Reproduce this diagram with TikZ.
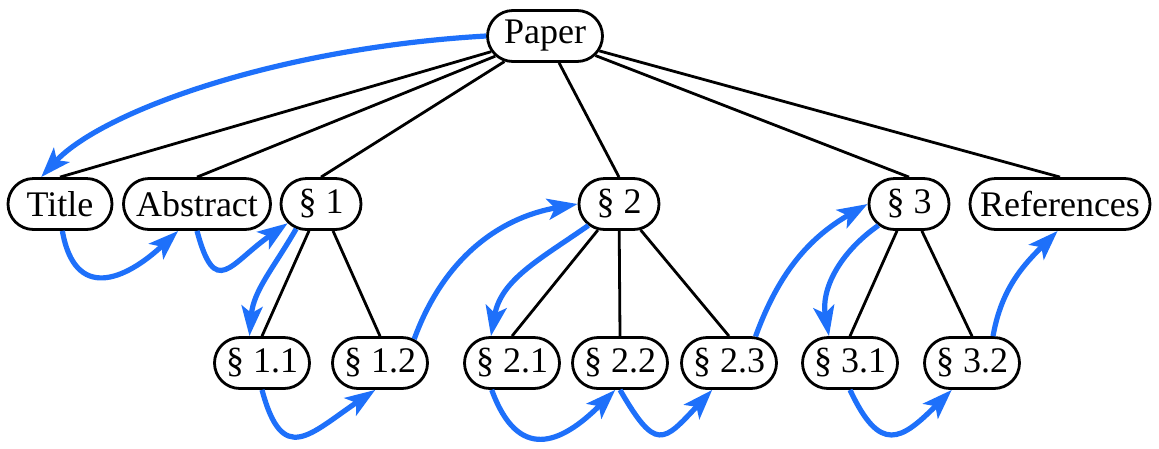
\documentclass[tikz,border=0pt]{standalone}
\usepackage{fontspec}
\setmainfont{Liberation Serif}
\usetikzlibrary{shapes.misc,arrows.meta}
\definecolor{flowblue}{RGB}{30,112,250}
\begin{document}
\begin{tikzpicture}[x=1pt,y=1pt,
  box/.style={draw=black,line width=2.8pt,fill=white,rounded rectangle,
    inner xsep=0pt,inner ysep=0pt,minimum height=51pt,
    font=\fontsize{36}{42}\selectfont},
  tree/.style={draw=black,line width=2.8pt},
  flow/.style={draw=flowblue,line width=5.2pt,
    -{Stealth[length=30pt,width=21pt,inset=7pt]}}]
\useasboundingbox (0,0) rectangle (1159,-448);
% nodes
\node[box,minimum width=115pt] (paper) at (545,-36) {Paper};
\node[box,minimum width=104pt] (title) at (60,-204) {Title};
\node[box,minimum width=147pt] (abstract) at (197,-204) {Abstract};
\node[box,minimum width=80pt] (sec1) at (321,-204) {§ 1};
\node[box,minimum width=80pt] (sec2) at (619,-204) {§ 2};
\node[box,minimum width=80pt] (sec3) at (909,-204) {§ 3};
\node[box,minimum width=180pt] (refs) at (1060,-204) {References};
\node[box,minimum width=95pt] (sec11) at (262,-363) {§ 1.1};
\node[box,minimum width=95pt] (sec12) at (380,-363) {§ 1.2};
\node[box,minimum width=95pt] (sec21) at (512,-363) {§ 2.1};
\node[box,minimum width=95pt] (sec22) at (620,-363) {§ 2.2};
\node[box,minimum width=95pt] (sec23) at (729,-363) {§ 2.3};
\node[box,minimum width=95pt] (sec31) at (850,-363) {§ 3.1};
\node[box,minimum width=95pt] (sec32) at (972,-363) {§ 3.2};
% tree edges
\draw[tree] (paper) -- (title.north);
\draw[tree] (paper) -- (abstract.north);
\draw[tree] (paper) -- (sec1.north);
\draw[tree] (paper) -- (sec2.north);
\draw[tree] (paper) -- (sec3.north);
\draw[tree] (paper) -- (refs.north);
\draw[tree] (sec1) -- (sec11.north);
\draw[tree] (sec1) -- (sec12.north);
\draw[tree] (sec2) -- (sec21.north);
\draw[tree] (sec2) -- (sec22.north);
\draw[tree] (sec2) -- (sec23.north);
\draw[tree] (sec3) -- (sec31.north);
\draw[tree] (sec3) -- (sec32.north);
% reading order
\draw[flow] (paper.west) .. controls +(-210,-12) and +(60,65) .. (title.125);
\draw[flow] (title.-85) to[out=-80,in=-137,looseness=1.6] (abstract.-125);
\draw[flow] (abstract.south) to[out=-75,in=-145,looseness=2] (sec1.-150);
\draw[flow] (sec1.-135) to[out=-120,in=85] (sec11.115);
\draw[flow] (sec11.south) to[out=-75,in=-146,looseness=1.8] (sec12.-100);
\draw[flow] (sec12.35) to[out=70,in=190] (sec2.west);
\draw[flow] (sec2.-145) to[out=-145,in=80] (sec21.128);
\draw[flow] (sec21.-127) to[out=-70,in=-135,looseness=1.6] (sec22.-100);
\draw[flow] (sec22.south) to[out=-60,in=-133,looseness=2] (sec23.-122);
\draw[flow] (sec23.45) to[out=70,in=-150] (sec3.west);
\draw[flow] (sec3.-145) to[out=-145,in=100] (sec31.128);
\draw[flow] (sec31.south) to[out=-65,in=-135,looseness=1.8] (sec32.-127);
\draw[flow] (sec32.52) to[out=80,in=-135] (refs.-95);
\end{tikzpicture}
\end{document}
